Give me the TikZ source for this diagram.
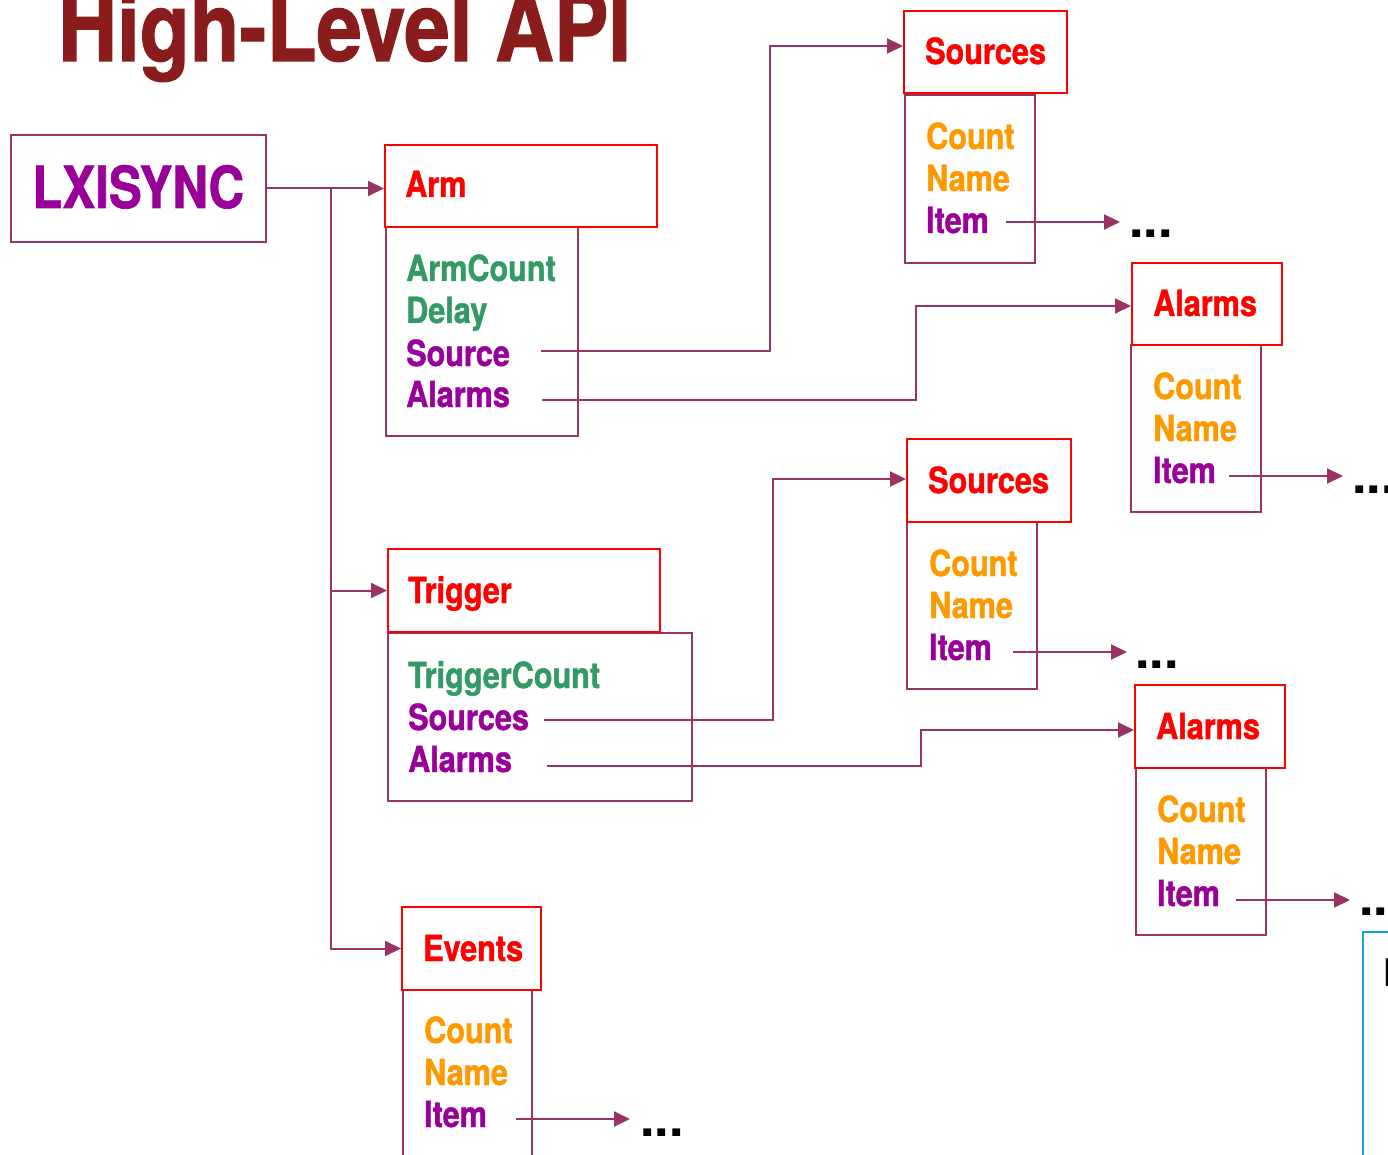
\documentclass[tikz,border=0pt]{standalone}
\usepackage{fontspec}
\setmainfont{TeX Gyre Heros}[FakeStretch=0.85, BoldFeatures={FakeBold=1.2}]
\newfontfamily\widefont{TeX Gyre Heros}
\usetikzlibrary{arrows.meta}

\definecolor{plum}{HTML}{993366}
\definecolor{titlered}{HTML}{8B1C1C}
\definecolor{itempurple}{HTML}{990099}
\definecolor{propgreen}{HTML}{339966}
\definecolor{proporange}{HTML}{FF9900}
\definecolor{frameblue}{HTML}{1BA1DA}

\tikzset{
  box/.style={draw=plum, line width=2pt, anchor=north west, inner sep=0pt},
  hdrbox/.style={draw=red, line width=2pt, anchor=north west, inner sep=0pt},
  lbl/.style={anchor=base west, inner sep=0pt, font=\fontsize{36}{40}\selectfont\bfseries},
  hdr/.style={lbl, text=red},
  grn/.style={lbl, text=propgreen},
  pur/.style={lbl, text=itempurple},
  org/.style={lbl, text=proporange},
  more/.style={anchor=base west, inner sep=0pt, font=\widefont\fontsize{52}{56}\selectfont\bfseries},
  conn/.style={draw=plum, line width=2pt},
  arr/.style={conn, -{Triangle[length=16pt,width=15pt]}},
}

\begin{document}
\begin{tikzpicture}[x=1pt,y=-1pt]
\useasboundingbox (0,0) rectangle (1388,1155);
\clip (0,0) rectangle (1388,1155);

% title
\node[anchor=base west, inner sep=0pt, text=titlered,
      font=\fontsize{96}{100}\selectfont\bfseries] (title) at (58,61) {High-Level API};

% root object
\node[box, minimum width=255pt, minimum height=107pt] (lxi) at (10,134) {};
\node[anchor=base west, inner sep=0pt, text=itempurple,
      font=\fontsize{58}{62}\selectfont\bfseries] (lxit) at (32,208) {LXISYNC};

% Arm
\node[box, minimum width=192pt, minimum height=209pt] (armB) at (385,226) {};
\node[hdrbox, minimum width=272pt, minimum height=82pt] (armH) at (384,144) {};
\node[hdr] (armT) at (405,197) {Arm};
\node[grn] (armCnt) at (406,281) {ArmCount};
\node[grn] (armDly) at (406,323) {Delay};
\node[pur] (armSrc) at (406,366) {Source};
\node[pur] (armAlm) at (406,407) {Alarms};

% Trigger
\node[box, minimum width=304pt, minimum height=168pt] (trgB) at (387,632) {};
\node[hdrbox, minimum width=272pt, minimum height=83pt] (trgH) at (387,548) {};
\node[hdr] (trgT) at (408,603) {Trigger};
\node[grn] (trgCnt) at (408,688) {TriggerCount};
\node[pur] (trgSrc) at (408,730) {Sources};
\node[pur] (trgAlm) at (408,772) {Alarms};

% Events
\node[box, minimum width=129pt, minimum height=260pt] (evtB) at (402,989) {};
\node[hdrbox, minimum width=139pt, minimum height=83pt] (evtH) at (401,906) {};
\node[hdr] (evtT) at (423,961) {Events};
\node[org] (evtCnt) at (424,1043) {Count};
\node[org] (evtNam) at (424,1085) {Name};
\node[pur] (evtItm) at (424,1127) {Item};
\node[more] (evtMore) at (640,1136) {...};

% Arm sources
\node[box, minimum width=130pt, minimum height=168pt] (s1B) at (904,94) {};
\node[hdrbox, minimum width=163pt, minimum height=82pt] (s1H) at (903,10) {};
\node[hdr] (s1T) at (925,64) {Sources};
\node[org] (s1Cnt) at (926,149) {Count};
\node[org] (s1Nam) at (926,191) {Name};
\node[pur] (s1Itm) at (926,233) {Item};
\node[more] (s1More) at (1129,238) {...};

% Arm alarms
\node[box, minimum width=130pt, minimum height=167pt] (a1B) at (1130,344) {};
\node[hdrbox, minimum width=150pt, minimum height=82pt] (a1H) at (1131,262) {};
\node[hdr] (a1T) at (1153,316) {Alarms};
\node[org] (a1Cnt) at (1153,399) {Count};
\node[org] (a1Nam) at (1153,441) {Name};
\node[pur] (a1Itm) at (1153,483) {Item};
\node[more] (a1More) at (1352,493) {...};

% Trigger sources
\node[box, minimum width=130pt, minimum height=167pt] (s2B) at (906,521) {};
\node[hdrbox, minimum width=164pt, minimum height=83pt] (s2H) at (906,438) {};
\node[hdr] (s2T) at (928,493) {Sources};
\node[org] (s2Cnt) at (929,576) {Count};
\node[org] (s2Nam) at (929,618) {Name};
\node[pur] (s2Itm) at (929,660) {Item};
\node[more] (s2More) at (1135,668) {...};

% Trigger alarms
\node[box, minimum width=130pt, minimum height=167pt] (a2B) at (1135,767) {};
\node[hdrbox, minimum width=150pt, minimum height=83pt] (a2H) at (1134,684) {};
\node[hdr] (a2T) at (1156,739) {Alarms};
\node[org] (a2Cnt) at (1157,822) {Count};
\node[org] (a2Nam) at (1157,864) {Name};
\node[pur] (a2Itm) at (1157,906) {Item};
\node[more] (a2More) at (1359,915) {...};

% next panel at the edge
\node[draw=frameblue, line width=2pt, anchor=north west, inner sep=0pt,
      minimum width=120pt, minimum height=300pt] (panel) at (1362,931) {};
\node[anchor=base west, inner sep=0pt, font=\widefont\fontsize{38}{40}\selectfont]
      (panelT) at (1382,986) {I};

% root connectors
\coordinate (trunk) at (331,187.5);
\draw[arr] (lxi.east) -- (lxi.east -| armH.west);
\draw[arr] (trunk) |- (trgH.west);
\draw[arr] (trunk) |- (evtH.west);

% property connectors
\coordinate (armSrcOut) at (541,351);
\coordinate (armAlmOut) at (542,400);
\coordinate (trgSrcOut) at (544,720);
\coordinate (trgAlmOut) at (547,766);
\draw[arr] (armSrcOut) -- ++(229,0) |- ([yshift=6pt]s1H.west);
\draw[arr] (armAlmOut) -- ++(374,0) |- ([yshift=-2pt]a1H.west);
\draw[arr] (trgSrcOut) -- ++(229,0) |- ([yshift=1.5pt]s2H.west);
\draw[arr] (trgAlmOut) -- ++(374,0) |- ([yshift=-3.5pt]a2H.west);

% item connectors
\coordinate (s1Out) at (1006,222);
\coordinate (a1Out) at (1229,476);
\coordinate (s2Out) at (1013,652);
\coordinate (a2Out) at (1236,900);
\coordinate (evtOut) at (516,1119);
\draw[arr, shorten >=9pt] (s1Out) -- (s1Out -| s1More.west);
\draw[arr, shorten >=9pt] (a1Out) -- (a1Out -| a1More.west);
\draw[arr, shorten >=8pt] (s2Out) -- (s2Out -| s2More.west);
\draw[arr, shorten >=9pt] (a2Out) -- (a2Out -| a2More.west);
\draw[arr, shorten >=10pt] (evtOut) -- (evtOut -| evtMore.west);
\end{tikzpicture}
\end{document}
